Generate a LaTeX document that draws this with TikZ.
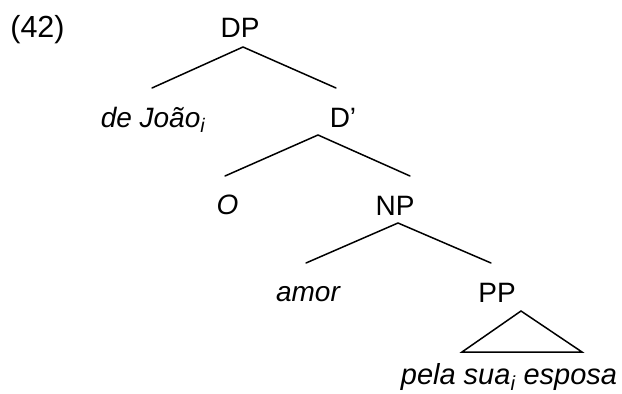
\documentclass[tikz,border=0pt]{standalone}
\usepackage{fontspec}
\setmainfont{Liberation Sans}
\begin{document}
\begin{tikzpicture}[x=1pt,y=-1pt,
  lab/.style={anchor=base,inner sep=0pt,font=\fontsize{28}{32}\selectfont},
  word/.style={lab,font=\fontsize{28}{32}\selectfont\itshape},
  branch/.style={line width=1.5pt,line cap=round,line join=miter}]
\useasboundingbox[fill=white] (0,0) rectangle (622,394);
% labels
\node[lab,font=\fontsize{30.5}{34}\selectfont] (ex) at (37.5,37) {(42)};
\node[lab]  (DP)    at (240,37)  {DP};
\node[word] (joao)  at (153,127) {de João\textsubscript{i}};
\node[lab]  (Dbar)  at (343,127) {D’};
\node[word] (O)     at (227.5,214) {O};
\node[lab]  (NP)    at (395,215) {NP};
\node[word] (amor)  at (308,301) {amor};
\node[lab]  (PP)    at (497,302) {PP};
\node[word,font=\fontsize{29}{33}\selectfont\itshape] (pela) at (509,384) {pela sua\textsubscript{i} esposa};
% branches
\draw[branch] ([shift={(-1,-39)}]joao.base) -- ([shift={(3,10)}]DP.base) -- ([shift={(-7,-39)}]Dbar.base);
\draw[branch] ([shift={(-2.5,-38)}]O.base) -- ([shift={(-25,8)}]Dbar.base) -- ([shift={(15,-39)}]NP.base);
\draw[branch] ([shift={(-2,-38)}]amor.base) -- ([shift={(3,8)}]NP.base) -- ([shift={(-6,-39)}]PP.base);
% triangle over the PP phrase
\draw[branch] ([shift={(24,9)}]PP.base) -- ([shift={(-47,-32)}]pela.base) -- ([shift={(73,-32)}]pela.base) -- cycle;
\end{tikzpicture}
\end{document}
